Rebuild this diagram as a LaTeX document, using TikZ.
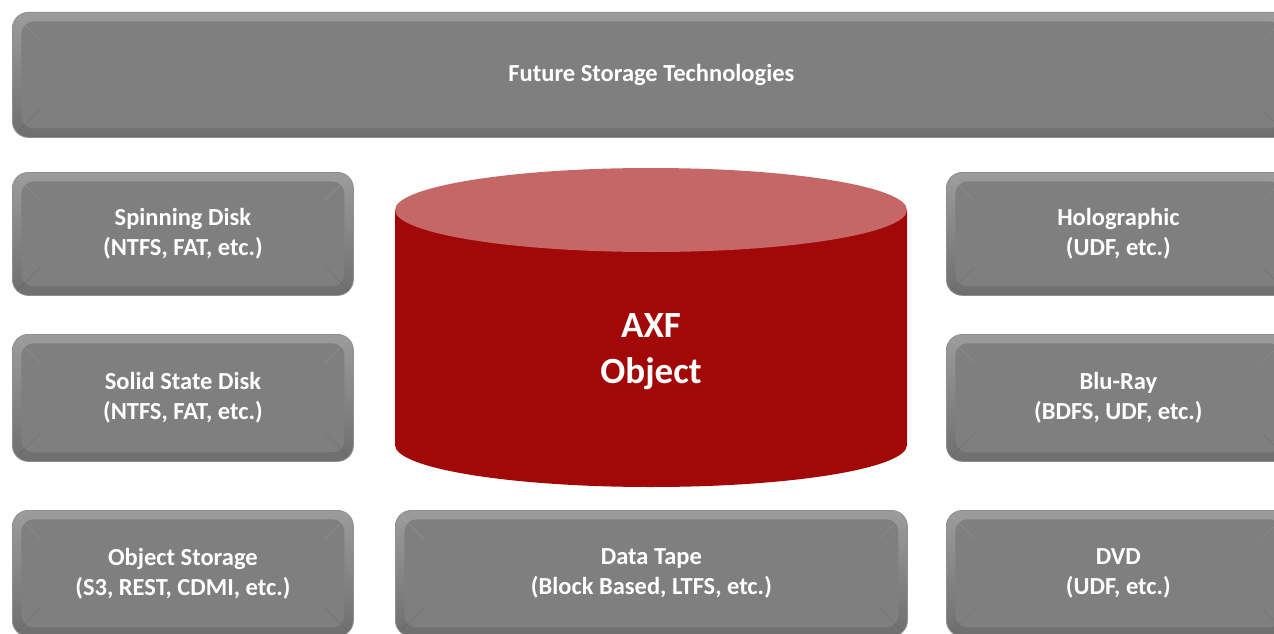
\documentclass[tikz,border=0pt]{standalone}
\usepackage{fontspec}
\setmainfont{Carlito}
\definecolor{gface}{HTML}{7F7F7F}
\definecolor{gtop}{HTML}{9C9C9C}
\definecolor{gbot}{HTML}{6E6E6E}
\definecolor{gedge}{HTML}{8E8E8E}
\definecolor{cylside}{HTML}{A20808}
\definecolor{cyltop}{HTML}{C56766}
\begin{document}
\begin{tikzpicture}[x=1pt,y=1pt,
  bevelbox/.style={rounded corners=16pt, top color=gtop, bottom color=gbot, draw=gedge, line width=0.8pt,
    text=white, font=\bfseries\fontsize{24.5}{30}\selectfont, align=center, inner sep=0pt, anchor=north west,
    path picture={
      \fill[gface, rounded corners=12pt] ([shift={(9pt,-9pt)}]path picture bounding box.north west) rectangle ([shift={(-9pt,9pt)}]path picture bounding box.south east);
      \draw[white, opacity=0.08, line width=0.8pt] (path picture bounding box.north west) -- ++(28pt,-28pt)
        (path picture bounding box.north east) -- ++(-28pt,-28pt);
      \draw[black, opacity=0.07, line width=0.8pt] (path picture bounding box.south west) -- ++(28pt,28pt)
        (path picture bounding box.south east) -- ++(-28pt,28pt);
    }},
  bigtext/.style={text=white, font=\bfseries\fontsize{37}{46}\selectfont, align=center}
]
\useasboundingbox (0,0) rectangle (1274,-634);
\clip (0,0) rectangle (1274,-634);
\fill[white] (0,0) rectangle (1274,-634);

\node[bevelbox, minimum width=1278pt, minimum height=125pt] (future) at (12,-12) {Future Storage Technologies};

\node[bevelbox, minimum width=341pt, minimum height=123pt] (spin) at (12,-172) {Spinning Disk\\(NTFS, FAT, etc.)};
\node[bevelbox, minimum width=341pt, minimum height=127pt] (ssd) at (12,-334) {Solid State Disk\\(NTFS, FAT, etc.)};
\node[bevelbox, minimum width=341pt, minimum height=126pt] (obj) at (12,-510) {Object Storage\\(S3, REST, CDMI, etc.)};

\node[bevelbox, minimum width=512pt, minimum height=126pt] (tape) at (395,-510) {Data Tape\\(Block Based, LTFS, etc.)};

\node[bevelbox, minimum width=344pt, minimum height=123pt] (holo) at (946,-172) {Holographic\\(UDF, etc.)};
\node[bevelbox, minimum width=344pt, minimum height=127pt] (blu) at (946,-334) {Blu-Ray\\(BDFS, UDF, etc.)};
\node[bevelbox, minimum width=344pt, minimum height=126pt] (dvd) at (946,-510) {DVD\\(UDF, etc.)};

% cylinder
\fill[cylside] (395,-210) -- (395,-445) arc[start angle=180, end angle=360, x radius=256, y radius=42] -- (907,-210) -- cycle;
\fill[cyltop] (651,-210) ellipse[x radius=256, y radius=42];
\node[bigtext] (axf) at (651,-352) {AXF\\Object};
\end{tikzpicture}
\end{document}
